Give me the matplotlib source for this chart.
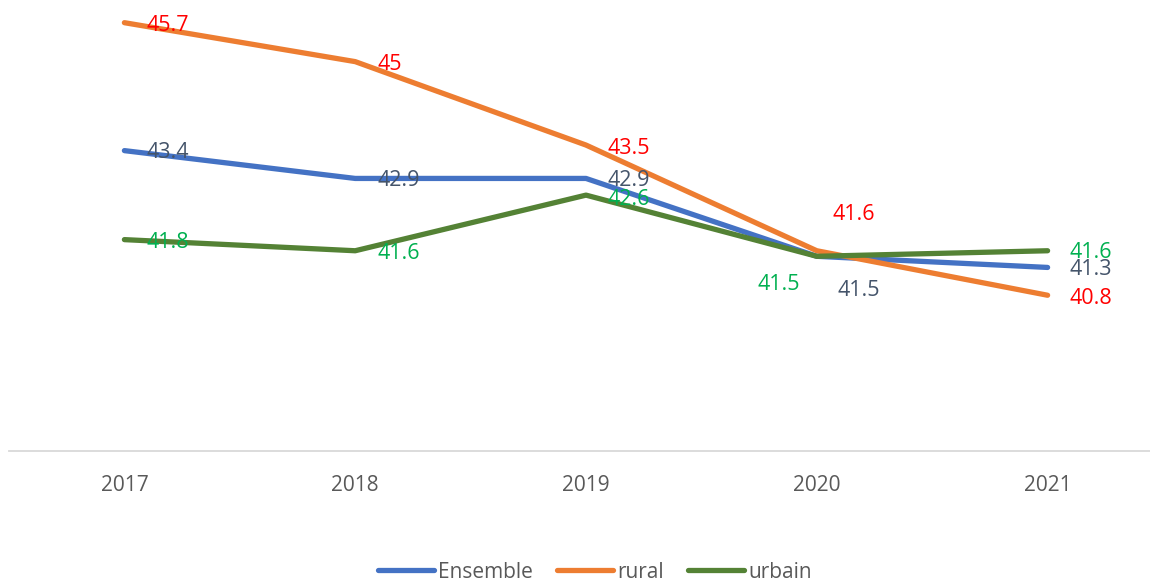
import matplotlib
matplotlib.use('Agg')
import matplotlib.pyplot as plt

# data
years = ['2017', '2018', '2019', '2020', '2021']
ensemble = [43.4, 42.9, 42.9, 41.5, 41.3]
rural = [45.7, 45.0, 43.5, 41.6, 40.8]
urbain = [41.8, 41.6, 42.6, 41.5, 41.6]

ensemble_txt = ['43.4', '42.9', '42.9', '41.5', '41.3']
rural_txt = ['45.7', '45', '43.5', '41.6', '40.8']
urbain_txt = ['41.8', '41.6', '42.6', '41.5', '41.6']

plt.rcParams['font.family'] = ['Open Sans', 'DejaVu Sans']

fig = plt.figure(figsize=(11.5, 5.81), dpi=100)
ax = fig.add_axes([9 / 1150, 130 / 581, 1154 / 1150, 445 / 581])

x = list(range(len(years)))
series = [
    ('Ensemble', ensemble, ensemble_txt, '#4472C4', '#44546A'),
    ('rural', rural, rural_txt, '#ED7D31', '#FF0000'),
    ('urbain', urbain, urbain_txt, '#548235', '#00B050'),
]

# label offsets in pixels (dx, dy, ha) - mostly "right of point" like Excel
offsets = {
    'Ensemble': [(22, -2, 'left'), (22, -2, 'left'), (22, -2, 'left'), (21, -34, 'left'), (22, -2, 'left')],
    'rural': [(22, -3, 'left'), (22, -3, 'left'), (22, -3, 'left'), (16, 36, 'left'), (22, -3, 'left')],
    'urbain': [(22, -3, 'left'), (22, -3, 'left'), (22, -4, 'left'), (-17, -28, 'right'), (22, -2, 'left')],
}

for name, vals, txts, col, tcol in series:
    ax.plot(x, vals, color=col, lw=3.8, solid_capstyle='round',
            solid_joinstyle='round', label=name)
    for xi, v, t, (dx, dy, ha) in zip(x, vals, txts, offsets[name]):
        ax.annotate(t, (xi, v), xytext=(dx, dy), textcoords='offset pixels',
                    ha=ha, va='center', fontsize=15.5, color=tcol)

ax.set_xlim(-0.5, 4.5)
ax.set_ylim(38, 46)
ax.set_xticks(x)
ax.set_xticklabels(years, fontsize=15, color='#595959')
ax.tick_params(axis='x', length=0, pad=17)
ax.set_yticks([])

for s in ['top', 'right', 'left']:
    ax.spines[s].set_visible(False)
ax.spines['bottom'].set_color('#D9D9D9')
ax.spines['bottom'].set_linewidth(1.3)

leg = fig.legend(loc='center', bbox_to_anchor=(595 / 1150, 9 / 581), ncol=3,
                 frameon=False, fontsize=15, handlelength=2.7, handletextpad=0.2,
                 columnspacing=1.15)
for t in leg.get_texts():
    t.set_color('#595959')

plt.savefig('out.png', dpi=100)
